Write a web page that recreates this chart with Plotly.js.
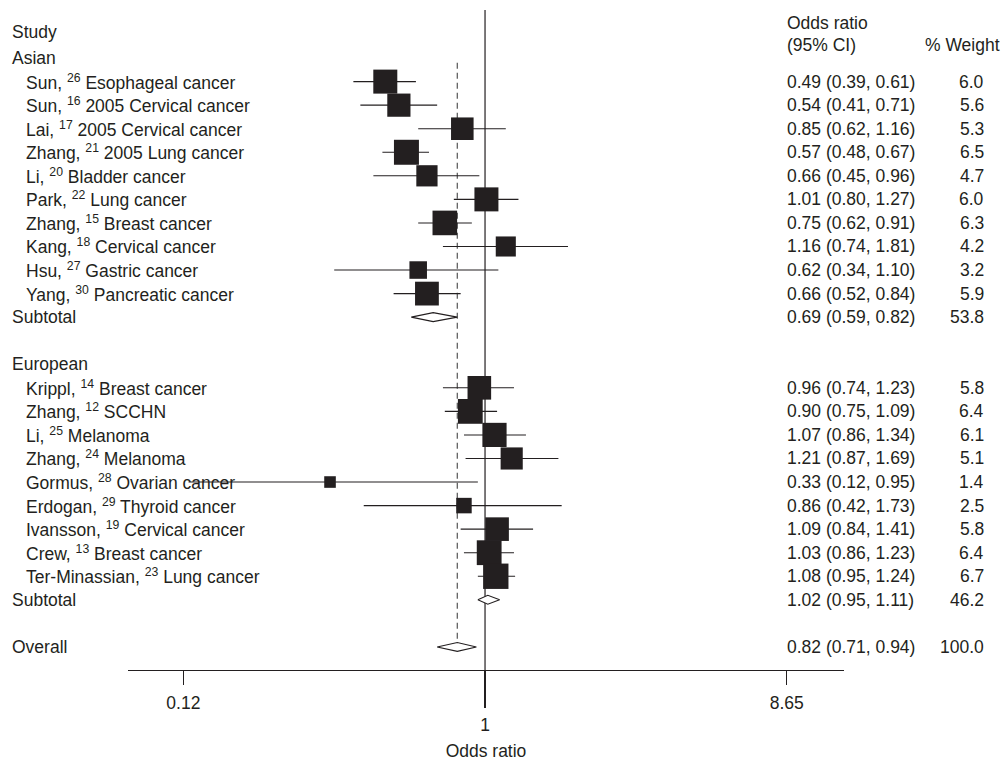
<!DOCTYPE html>
<html>
<head>
<meta charset="utf-8">
<script src="https://cdn.plot.ly/plotly-3.0.1.min.js"></script>
<style>html,body{margin:0;padding:0;background:#fff;}#chart{width:1001px;height:761px;}</style>
</head>
<body>
<div id="chart"></div>
<script>
// ---------- data ----------
const groupNames = ["Asian", "European"];

const asianLabels = [
  "Sun, <sup>26</sup> Esophageal cancer",
  "Sun, <sup>16</sup> 2005 Cervical cancer",
  "Lai, <sup>17</sup> 2005 Cervical cancer",
  "Zhang, <sup>21</sup> 2005 Lung cancer",
  "Li, <sup>20</sup> Bladder cancer",
  "Park, <sup>22</sup> Lung cancer",
  "Zhang, <sup>15</sup> Breast cancer",
  "Kang, <sup>18</sup> Cervical cancer",
  "Hsu, <sup>27</sup> Gastric cancer",
  "Yang, <sup>30</sup> Pancreatic cancer"
];
const asianOR = [0.49, 0.54, 0.85, 0.57, 0.66, 1.01, 0.75, 1.16, 0.62, 0.66];
const asianLo = [0.39, 0.41, 0.62, 0.48, 0.45, 0.80, 0.62, 0.74, 0.34, 0.52];
const asianHi = [0.61, 0.71, 1.16, 0.67, 0.96, 1.27, 0.91, 1.81, 1.10, 0.84];
const asianWt = [6.0, 5.6, 5.3, 6.5, 4.7, 6.0, 6.3, 4.2, 3.2, 5.9];

const euroLabels = [
  "Krippl, <sup>14</sup> Breast cancer",
  "Zhang, <sup>12</sup> SCCHN",
  "Li, <sup>25</sup> Melanoma",
  "Zhang, <sup>24</sup> Melanoma",
  "Gormus, <sup>28</sup> Ovarian cancer",
  "Erdogan, <sup>29</sup> Thyroid cancer",
  "Ivansson, <sup>19</sup> Cervical cancer",
  "Crew, <sup>13</sup> Breast cancer",
  "Ter-Minassian, <sup>23</sup> Lung cancer"
];
const euroOR = [0.96, 0.90, 1.07, 1.21, 0.33, 0.86, 1.09, 1.03, 1.08];
const euroLo = [0.74, 0.75, 0.86, 0.87, 0.12, 0.42, 0.84, 0.86, 0.95];
const euroHi = [1.23, 1.09, 1.34, 1.69, 0.95, 1.73, 1.41, 1.23, 1.24];
const euroWt = [5.8, 6.4, 6.1, 5.1, 1.4, 2.5, 5.8, 6.4, 6.7];

const subtotalOR = [0.69, 1.02];
const subtotalLo = [0.59, 0.95];
const subtotalHi = [0.82, 1.11];
const subtotalWt = [53.8, 46.2];

const overallOR = 0.82, overallLo = 0.71, overallHi = 0.94, overallWt = 100.0;

const tickVals = [0.1156, 8.65];
const tickText = ["0.12", "8.65"];
const nullVal = [1];
const nullText = ["1"];

// ---------- build rows ----------
const groups = [
  {name: groupNames[0], labels: asianLabels, or: asianOR, lo: asianLo, hi: asianHi, wt: asianWt},
  {name: groupNames[1], labels: euroLabels, or: euroOR, lo: euroLo, hi: euroHi, wt: euroWt}
];

const FONT = "Liberation Sans, Arial, Helvetica, sans-serif";
const FS = 17.5;
const TXT = "#231f20";
const PL = 128, PR = 844; // plot-area pixel edges
const px2p = px => (px - PL) / (PR - PL);

const sqX = [], sqY = [], sqS = [], sqErrP = [], sqErrM = [];
const dX = [], dY = [];
const annotations = [];
const H = 0.19;

function addLeft(text, row, px) {
  annotations.push({xref: "paper", yref: "y", x: px2p(px), y: row, text: text,
    xanchor: "left", yanchor: "middle", showarrow: false, align: "left",
    font: {family: FONT, size: FS, color: TXT}});
}
function addStats(or, lo, hi, wt, row) {
  annotations.push({xref: "paper", yref: "y", x: px2p(785), y: row,
    text: or.toFixed(2) + " (" + lo.toFixed(2) + ", " + hi.toFixed(2) + ")",
    xanchor: "left", yanchor: "middle", showarrow: false,
    font: {family: FONT, size: FS, color: TXT}});
  annotations.push({xref: "paper", yref: "y", x: px2p(986), y: row,
    text: wt.toFixed(1), xanchor: "right", yanchor: "middle", showarrow: false,
    font: {family: FONT, size: FS, color: TXT}});
}
function addDiamond(or, lo, hi, row) {
  dX.push(lo, or, hi, or, lo, null);
  dY.push(row, row - H, row, row + H, row, null);
}

let r = 0;
groups.forEach((g, gi) => {
  addLeft(g.name, r, 10);
  r++;
  g.labels.forEach((lab, i) => {
    addLeft(lab, r, 24);
    sqX.push(g.or[i]); sqY.push(r);
    sqS.push(9.8 * Math.sqrt(g.wt[i]));
    sqErrP.push(g.hi[i] - g.or[i]); sqErrM.push(g.or[i] - g.lo[i]);
    addStats(g.or[i], g.lo[i], g.hi[i], g.wt[i], r);
    r++;
  });
  addLeft("Subtotal", r, 10);
  addDiamond(subtotalOR[gi], subtotalLo[gi], subtotalHi[gi], r);
  addStats(subtotalOR[gi], subtotalLo[gi], subtotalHi[gi], subtotalWt[gi], r);
  r += 2;
});
const overallRow = r;
addLeft("Overall", overallRow, 10);
addDiamond(overallOR, overallLo, overallHi, overallRow);
addStats(overallOR, overallLo, overallHi, overallWt, overallRow);

// headers
addLeft("Study", -1.1, 10);
addLeft("Odds ratio", -1.49, 785);
addLeft("(95% CI)", -0.55, 785);
addLeft("% Weight", -0.55, 923);

// ---------- traces ----------
const traces = [
  {
    type: "scatter", mode: "markers", x: sqX, y: sqY, hoverinfo: "skip",
    marker: {symbol: "square", size: sqS, color: "#231f20", opacity: 1, line: {width: 0}},
    error_x: {type: "data", symmetric: false, array: sqErrP, arrayminus: sqErrM,
      width: 0, thickness: 1.1, color: "#231f20"}
  },
  {
    type: "scatter", mode: "lines", x: dX, y: dY, fill: "toself", fillcolor: "#ffffff",
    line: {color: "#231f20", width: 1.1}, hoverinfo: "skip", connectgaps: false
  },
  {type: "scatter", mode: "markers", x: [], y: [], xaxis: "x2", hoverinfo: "skip"}
];

const xr = [-1.109, 1.115];
const layout = {
  width: 1001, height: 761,
  margin: {l: PL, r: 1001 - PR, t: 10, b: 91},
  paper_bgcolor: "#ffffff", plot_bgcolor: "#ffffff",
  showlegend: false,
  font: {family: FONT, size: FS, color: TXT},
  xaxis: {
    type: "log", range: xr, showgrid: false, zeroline: false,
    showline: true, linecolor: "#231f20", linewidth: 1.2,
    ticks: "outside", ticklen: 14, tickwidth: 1.2, tickcolor: "#231f20",
    tickvals: tickVals, ticktext: tickText, ticklabelstandoff: 3,
    tickfont: {family: FONT, size: FS, color: TXT}, fixedrange: true
  },
  xaxis2: {
    type: "log", range: xr, overlaying: "x", anchor: "y", side: "bottom",
    showgrid: false, zeroline: false, showline: false,
    ticks: "outside", ticklen: 37, tickwidth: 1.2, tickcolor: "#231f20",
    tickvals: nullVal, ticktext: nullText, ticklabelstandoff: 2,
    tickfont: {family: FONT, size: FS, color: TXT},
    title: {text: "Odds ratio", font: {family: FONT, size: FS, color: TXT}, standoff: 16},
    fixedrange: true
  },
  yaxis: {
    range: [25.98, -2.04], visible: false, showgrid: false, zeroline: false, fixedrange: true
  },
  shapes: [
    {type: "line", xref: "x", yref: "paper", x0: 1, x1: 1, y0: 0, y1: 1,
      line: {color: "#231f20", width: 1.2}, layer: "below"},
    {type: "line", xref: "x", yref: "y", x0: overallOR, x1: overallOR, y0: 0.2, y1: overallRow - H,
      line: {color: "#555555", width: 1.2, dash: "6px,4px"}, layer: "below"}
  ],
  annotations: annotations
};

Plotly.newPlot("chart", traces, layout, {displayModeBar: false, staticPlot: true});
</script>
</body>
</html>
